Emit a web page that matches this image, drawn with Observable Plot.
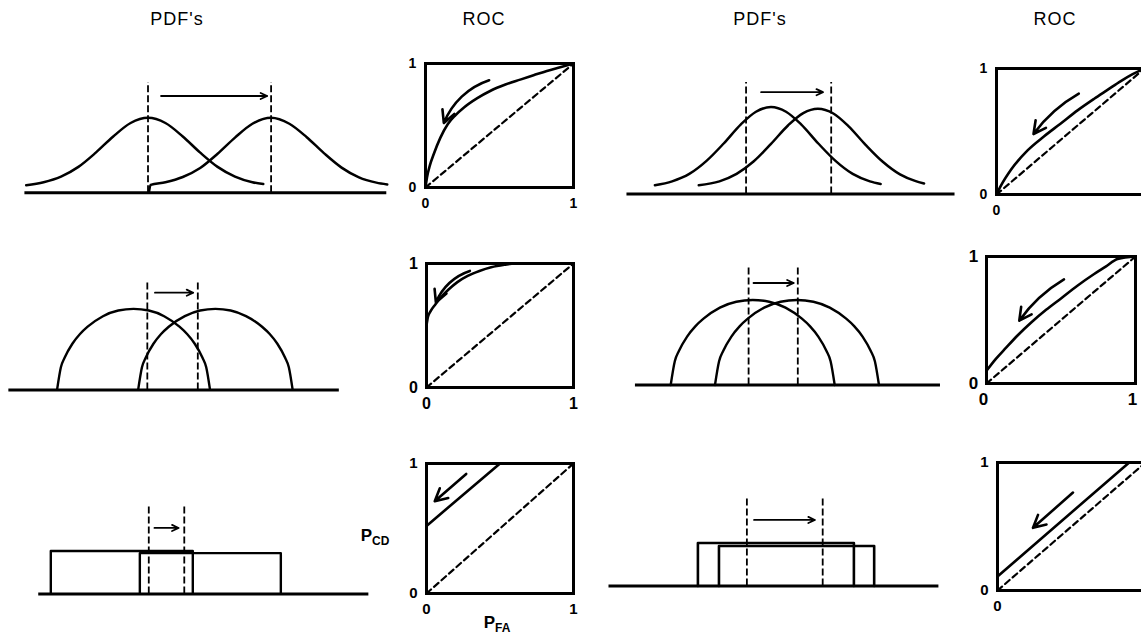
<!DOCTYPE html>
<html><head><meta charset="utf-8">
<script src="https://cdn.jsdelivr.net/npm/d3@7"></script>
<script src="https://cdn.jsdelivr.net/npm/@observablehq/plot@0.6"></script>
<style>
body{margin:0;background:#fff;}
#fig{position:relative;width:1141px;height:637px;overflow:hidden;background:#fff;font-family:"Liberation Sans",Arial,sans-serif;color:#000;}
.title{position:absolute;top:9px;font-size:18px;letter-spacing:1px;transform:translateX(-50%);white-space:nowrap;}
.lab{position:absolute;font-weight:bold;font-size:17px;transform:translate(-50%,-50%);white-space:nowrap;}
.lab sub{font-size:12px;vertical-align:-4px;}
</style></head><body><div id="fig"></div>
<script>
// ---------- texts ----------
const titles = ["PDF's", "ROC", "PDF's", "ROC"];
const rocTicks = [0, 1];

// ---------- PDF panels ----------
// Row 1, left: Gaussian pair (x in sigma units, y relative to peak)
const p1Axis = [-2.83, 5.49];
const p1H0x = [-2.8,-2.4,-2.0,-1.6,-1.2,-0.8,-0.4,0,0.4,0.8,1.2,1.6,2.0,2.4,2.65];
const p1H0y = [0.10,0.14,0.215,0.345,0.535,0.75,0.93,1.0,0.93,0.75,0.535,0.345,0.215,0.14,0.115];
const p1H1x = [0.02,0.06,0.4,0.8,1.2,1.6,2.0,2.4,2.83,3.25,3.65,4.05,4.45,4.85,5.25,5.5];
const p1H1y = [0,0.105,0.14,0.21,0.33,0.52,0.735,0.92,1.0,0.92,0.74,0.525,0.335,0.205,0.135,0.11];
const p1Thresh = [0, 2.83];
const p1DashTop = 1.47;
const p1Arrow = [0.3, 2.74, 1.29];

// Row 1, right: Gaussian pair, small shift
const p2Axis = [-3.35, 4.28];
const p2H0x = [-2.7,-2.3,-1.9,-1.5,-1.1,-0.7,-0.35,0,0.35,0.7,1.1,1.5,1.9,2.3,2.55];
const p2H0y = [0.10,0.145,0.23,0.38,0.58,0.80,0.945,1.0,0.945,0.80,0.58,0.38,0.23,0.145,0.115];
const p2H1x = [-1.68,-1.2,-0.8,-0.4,0,0.4,0.75,1.09,1.45,1.8,2.2,2.6,3.0,3.35,3.56];
const p2H1y = [0.10,0.145,0.23,0.375,0.575,0.79,0.93,0.98,0.925,0.78,0.565,0.37,0.225,0.15,0.12];
const p2Thresh = [-0.58, 1.4];
const p2DashTop = 1.28;
const p2Arrow = [-0.23, 1.21, 1.17];

// Row 2, left: arch-shaped pair
const p3Axis = [-1.63, 2.69];
const p3H0x = [-1,-0.95,-0.9,-0.8,-0.7,-0.6,-0.4,-0.2,0,0.2,0.4,0.6,0.7,0.8,0.9,0.95,1];
const p3H0y = [0,0.28,0.40,0.57,0.69,0.78,0.91,0.98,1,0.98,0.91,0.78,0.69,0.57,0.40,0.28,0];
const p3H1x = [0.06,0.11,0.16,0.26,0.36,0.46,0.67,0.87,1.07,1.27,1.47,1.68,1.78,1.88,1.98,2.03,2.08];
const p3H1y = [0,0.28,0.40,0.57,0.69,0.78,0.91,0.98,1,0.98,0.91,0.78,0.69,0.57,0.40,0.28,0];
const p3Thresh = [0.18, 0.84];
const p3DashTop = 1.32;
const p3Arrow = [0.28, 0.78, 1.2];

// Row 2, right: arch-shaped pair, small shift
const p4Axis = [-1.43, 2.29];
const p4H0x = [-1,-0.95,-0.9,-0.8,-0.7,-0.6,-0.4,-0.2,0,0.2,0.4,0.6,0.7,0.8,0.9,0.95,1];
const p4H0y = [0,0.28,0.40,0.57,0.69,0.78,0.91,0.98,1,0.98,0.91,0.78,0.69,0.57,0.40,0.28,0];
const p4H1x = [-0.46,-0.41,-0.36,-0.26,-0.16,-0.06,0.14,0.34,0.54,0.74,0.94,1.14,1.24,1.34,1.44,1.49,1.54];
const p4H1y = [0,0.28,0.40,0.57,0.69,0.78,0.91,0.98,1,0.98,0.91,0.78,0.69,0.57,0.40,0.28,0];
const p4Thresh = [-0.05, 0.55];
const p4DashTop = 1.4;
const p4Arrow = [0.01, 0.5, 1.2];

// Row 3, left: uniform pair
const p5Axis = [-0.085, 2.24];
const p5H0x = [0, 0, 1, 1];
const p5H0y = [0, 1.02, 1.02, 0];
const p5H1x = [0.627, 0.627, 1.62, 1.62];
const p5H1y = [0, 0.97, 0.97, 0];
const p5Thresh = [0.69, 0.94];
const p5DashTop = 2.1;
const p5Arrow = [0.73, 0.90, 1.57];

// Row 3, right: uniform pair, small shift
const p6Axis = [-0.57, 1.545];
const p6H0x = [0, 0, 1, 1];
const p6H0y = [0, 1.02, 1.02, 0];
const p6H1x = [0.135, 0.135, 1.13, 1.13];
const p6H1y = [0, 0.95, 0.95, 0];
const p6Thresh = [0.314, 0.8];
const p6DashTop = 2.1;
const p6Arrow = [0.36, 0.75, 1.57];

// ---------- ROC panels (P_FA, P_CD) ----------
const r1X = [0,0.01,0.03,0.056,0.1,0.15,0.2,0.26,0.35,0.44,0.54,0.64,0.73,0.82,0.91,1];
const r1Y = [0,0.08,0.18,0.27,0.4,0.51,0.58,0.645,0.72,0.78,0.83,0.87,0.905,0.94,0.97,1];
const r1Arrow = [0.43, 0.865, 0.124, 0.52];
const r2X = [0,0.03,0.1,0.21,0.32,0.43,0.55,0.66,0.75,0.84,0.92,1];
const r2Y = [0,0.07,0.2,0.35,0.46,0.56,0.67,0.76,0.83,0.9,0.955,1];
const r2Arrow = [0.556, 0.80, 0.25, 0.48];
const r3X = [0,0.01,0.03,0.06,0.1,0.15,0.21,0.28,0.36,0.44,0.53,0.6,1];
const r3Y = [0.5,0.57,0.62,0.67,0.73,0.79,0.85,0.9,0.94,0.97,0.99,1,1];
const r3Arrow = [0.295, 0.94, 0.064, 0.685];
const r4X = [0,0.06,0.13,0.21,0.3,0.4,0.5,0.61,0.72,0.8,0.88,1];
const r4Y = [0.1,0.19,0.28,0.38,0.48,0.58,0.67,0.77,0.86,0.92,0.98,1];
const r4Arrow = [0.52, 0.82, 0.22, 0.495];
const r5X = [0, 0.5, 1];
const r5Y = [0.52, 1, 1];
const r5Arrow = [0.27, 0.92, 0.056, 0.71];
const r6X = [0, 0.89, 1];
const r6Y = [0.11, 1, 1];
const r6Arrow = [0.51, 0.765, 0.24, 0.49];
const chanceX = [0, 1];
const chanceY = [0, 1];

// ---------- layout (pixels) ----------
const fig = document.getElementById("fig");
const titlePos = [177, 484, 760, 1055];
titles.forEach((t, i) => {
  const d = document.createElement("div");
  d.className = "title"; d.textContent = t; d.style.left = titlePos[i] + "px";
  fig.appendChild(d);
});
function addLabel(html, x, y) {
  const d = document.createElement("div");
  d.className = "lab"; d.innerHTML = html; d.style.left = x + "px"; d.style.top = y + "px";
  fig.appendChild(d);
}
addLabel("P<sub>CD</sub>", 375, 537);
addLabel("P<sub>FA</sub>", 497, 624);

function place(svg, left, top) {
  svg.style.position = "absolute";
  svg.style.left = left + "px";
  svg.style.top = top + "px";
  fig.appendChild(svg);
}
const pts = (xs, ys) => xs.map((x, i) => ({x, y: ys[i]}));
const FONT = "Liberation Sans, Arial, sans-serif";

function pdfPanel(L, data) {
  const m = 14;
  const innerW = (L.xdom[1] - L.xdom[0]) * L.xUnit;
  const innerH = L.ymax * L.yUnit;
  const curve = data.curve;
  const svg = Plot.plot({
    width: innerW + 2 * m, height: innerH + 2 * m, margin: m,
    x: {domain: L.xdom, axis: null}, y: {domain: [0, L.ymax], axis: null},
    style: {background: "transparent", overflow: "visible"},
    marks: [
      Plot.ruleX(data.thresh, {y1: 0, y2: data.dashTop, stroke: "black", strokeWidth: 1.8, strokeDasharray: "7,3"}),
      Plot.line(pts(data.h0x, data.h0y), {x: "x", y: "y", curve, stroke: "black", strokeWidth: data.sw}),
      Plot.line(pts(data.h1x, data.h1y), {x: "x", y: "y", curve, stroke: "black", strokeWidth: data.sw}),
      Plot.ruleY([0], {x1: data.axis[0], x2: data.axis[1], stroke: "black", strokeWidth: 3}),
      Plot.arrow([data.arrow], {x1: d => d[0], x2: d => d[1], y1: d => d[2], y2: d => d[2], stroke: "black", strokeWidth: 1.8, headLength: 6, headAngle: 50})
    ]
  });
  place(svg, L.xOrigin + L.xdom[0] * L.xUnit - m, L.yOrigin - innerH - m);
}

function rocPanel(L, xs, ys, arrow, bend, curve) {
  const mt = 12, mr = 12, mb = 26, ml = 26;
  const xt = L.showX1 ? rocTicks : rocTicks.slice(0, 1);
  const svg = Plot.plot({
    width: L.W + ml + mr, height: L.H + mt + mb,
    marginTop: mt, marginRight: mr, marginBottom: mb, marginLeft: ml,
    x: {domain: [0, 1], axis: null}, y: {domain: [0, 1], axis: null},
    style: {background: "transparent", overflow: "visible"},
    marks: [
      Plot.line(pts(chanceX, chanceY), {x: "x", y: "y", stroke: "black", strokeWidth: 2.2, strokeDasharray: "6,4"}),
      Plot.line(pts(xs, ys), {x: "x", y: "y", curve, stroke: "black", strokeWidth: 2.6}),
      Plot.frame({stroke: "black", strokeWidth: 3}),
      Plot.arrow([arrow], {x1: d => d[0], y1: d => d[1], x2: d => d[2], y2: d => d[3], bend, stroke: "black", strokeWidth: 2.6, headLength: 8, headAngle: 55}),
      Plot.text(xt, {x: d => d, y: () => 0, dy: 16, dx: L.dx1 || 0, text: d => String(d), fontSize: L.fs, fontWeight: "bold", fontFamily: FONT}),
      Plot.text(rocTicks, {x: () => 0, y: d => d, dx: -13, text: d => String(d), fontSize: L.fs, fontWeight: "bold", fontFamily: FONT})
    ]
  });
  place(svg, L.L - ml, L.T - mt);
}

const mono = "monotone-x";
pdfPanel({xOrigin: 147, xUnit: 43.5, xdom: [-3, 5.6], yOrigin: 192, yUnit: 75, ymax: 1.55},
  {axis: p1Axis, h0x: p1H0x, h0y: p1H0y, h1x: p1H1x, h1y: p1H1y, thresh: p1Thresh, dashTop: p1DashTop, arrow: p1Arrow, curve: mono, sw: 2.5});
pdfPanel({xOrigin: 770, xUnit: 43, xdom: [-3.5, 4.5], yOrigin: 193, yUnit: 87, ymax: 1.35},
  {axis: p2Axis, h0x: p2H0x, h0y: p2H0y, h1x: p2H1x, h1y: p2H1y, thresh: p2Thresh, dashTop: p2DashTop, arrow: p2Arrow, curve: mono, sw: 2.5});
pdfPanel({xOrigin: 133.5, xUnit: 76.5, xdom: [-1.7, 2.8], yOrigin: 389, yUnit: 81, ymax: 1.4},
  {axis: p3Axis, h0x: p3H0x, h0y: p3H0y, h1x: p3H1x, h1y: p3H1y, thresh: p3Thresh, dashTop: p3DashTop, arrow: p3Arrow, curve: mono, sw: 2.4});
pdfPanel({xOrigin: 752, xUnit: 82, xdom: [-1.6, 2.4], yOrigin: 384, yUnit: 85, ymax: 1.5},
  {axis: p4Axis, h0x: p4H0x, h0y: p4H0y, h1x: p4H1x, h1y: p4H1y, thresh: p4Thresh, dashTop: p4DashTop, arrow: p4Arrow, curve: mono, sw: 2.4});
pdfPanel({xOrigin: 50, xUnit: 142, xdom: [-0.15, 2.3], yOrigin: 593, yUnit: 42, ymax: 2.2},
  {axis: p5Axis, h0x: p5H0x, h0y: p5H0y, h1x: p5H1x, h1y: p5H1y, thresh: p5Thresh, dashTop: p5DashTop, arrow: p5Arrow, curve: "linear", sw: 2.4});
pdfPanel({xOrigin: 697, xUnit: 156, xdom: [-0.65, 1.6], yOrigin: 585, yUnit: 42, ymax: 2.2},
  {axis: p6Axis, h0x: p6H0x, h0y: p6H0y, h1x: p6H1x, h1y: p6H1y, thresh: p6Thresh, dashTop: p6DashTop, arrow: p6Arrow, curve: "linear", sw: 2.6});

rocPanel({L: 425, T: 63, W: 148, H: 124, fs: 14, showX1: true}, r1X, r1Y, r1Arrow, -25, mono);
rocPanel({L: 996, T: 68, W: 148, H: 126, fs: 14, showX1: false}, r2X, r2Y, r2Arrow, -12, mono);
rocPanel({L: 426, T: 263, W: 147, H: 124, fs: 16, showX1: true}, r3X, r3Y, r3Arrow, -25, mono);
rocPanel({L: 986, T: 256, W: 149, H: 127, fs: 17, showX1: true, dx1: -3}, r4X, r4Y, r4Arrow, -12, mono);
rocPanel({L: 426, T: 463, W: 147, H: 130, fs: 15, showX1: true}, r5X, r5Y, r5Arrow, 0, "linear");
rocPanel({L: 997, T: 462, W: 148, H: 128, fs: 15, showX1: false}, r6X, r6Y, r6Arrow, 0, "linear");
</script></body></html>
